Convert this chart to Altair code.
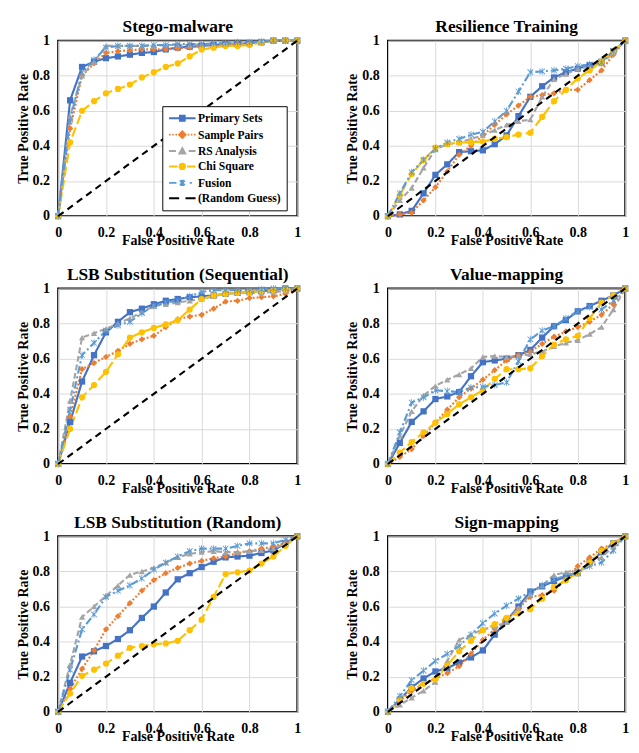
import altair as alt
import pandas as pd

FONT = "Liberation Serif"

fpr = [0, 0.05, 0.1, 0.15, 0.2, 0.25, 0.3, 0.35, 0.4, 0.45, 0.5,
       0.55, 0.6, 0.65, 0.7, 0.75, 0.8, 0.85, 0.9, 0.95, 1.0]
ticks = [0, 0.2, 0.4, 0.6, 0.8, 1.0]
series_names = ["Primary Sets", "Sample Pairs", "RS Analysis", "Chi Square", "Fusion"]
legend_names = series_names + ["(Random Guess)"]
series_colors = ["#4472C4", "#ED7D31", "#A5A5A5", "#FFC000", "#5B9BD5"]
legend_colors = series_colors + ["#000000"]
panel_titles = ["Stego-malware", "Resilience Training",
                "LSB Substitution (Sequential)", "Value-mapping",
                "LSB Substitution (Random)", "Sign-mapping"]
guess_fpr = [0, 1]
guess_tpr = [0, 1]

# Stego-malware
stego_primary = [0, 0.66, 0.85, 0.88, 0.90, 0.91, 0.92, 0.93, 0.935, 0.95, 0.96, 0.965, 0.97, 0.975, 0.98, 0.98, 0.985, 0.99, 1.0, 1.0, 1.0]
stego_sample = [0, 0.50, 0.80, 0.87, 0.93, 0.94, 0.945, 0.95, 0.95, 0.95, 0.955, 0.96, 0.97, 0.975, 0.98, 0.98, 0.985, 0.99, 1.0, 1.0, 1.0]
stego_rs = [0, 0.57, 0.80, 0.88, 0.97, 0.97, 0.97, 0.97, 0.97, 0.975, 0.975, 0.975, 0.98, 0.98, 0.985, 0.985, 0.99, 0.99, 1.0, 1.0, 1.0]
stego_chi = [0, 0.42, 0.60, 0.655, 0.70, 0.725, 0.75, 0.79, 0.82, 0.85, 0.87, 0.91, 0.95, 0.96, 0.97, 0.97, 0.975, 0.99, 1.0, 1.0, 1.0]
stego_fusion = [0, 0.55, 0.82, 0.89, 0.96, 0.97, 0.97, 0.97, 0.975, 0.975, 0.98, 0.98, 0.98, 0.985, 0.985, 0.99, 0.99, 0.995, 1.0, 1.0, 1.0]

# Resilience Training
res_primary = [0, 0.01, 0.03, 0.13, 0.235, 0.295, 0.365, 0.37, 0.375, 0.41, 0.46, 0.57, 0.68, 0.74, 0.79, 0.82, 0.84, 0.86, 0.88, 0.94, 1.0]
res_sample = [0, 0.01, 0.02, 0.09, 0.165, 0.255, 0.35, 0.40, 0.46, 0.52, 0.58, 0.63, 0.68, 0.69, 0.70, 0.72, 0.72, 0.775, 0.83, 0.92, 1.0]
res_rs = [0, 0.09, 0.16, 0.275, 0.38, 0.41, 0.42, 0.44, 0.46, 0.49, 0.52, 0.54, 0.55, 0.68, 0.78, 0.81, 0.84, 0.85, 0.87, 0.93, 1.0]
res_chi = [0, 0.12, 0.24, 0.32, 0.39, 0.41, 0.42, 0.42, 0.425, 0.44, 0.45, 0.465, 0.475, 0.565, 0.655, 0.72, 0.785, 0.83, 0.88, 0.94, 1.0]
res_fusion = [0, 0.13, 0.25, 0.32, 0.385, 0.42, 0.44, 0.465, 0.48, 0.54, 0.60, 0.71, 0.82, 0.825, 0.83, 0.84, 0.855, 0.865, 0.875, 0.94, 1.0]

# LSB Substitution (Sequential)
seq_primary = [0, 0.24, 0.47, 0.62, 0.75, 0.81, 0.865, 0.885, 0.91, 0.93, 0.94, 0.95, 0.955, 0.96, 0.97, 0.975, 0.98, 0.985, 0.99, 1.0, 1.0]
seq_sample = [0, 0.27, 0.54, 0.575, 0.61, 0.645, 0.685, 0.71, 0.73, 0.78, 0.825, 0.84, 0.85, 0.885, 0.925, 0.93, 0.945, 0.95, 0.955, 0.97, 1.0]
seq_rs = [0, 0.36, 0.72, 0.745, 0.77, 0.80, 0.83, 0.865, 0.90, 0.91, 0.92, 0.93, 0.94, 0.955, 0.97, 0.975, 0.975, 0.975, 0.98, 0.985, 1.0]
seq_chi = [0, 0.20, 0.38, 0.45, 0.525, 0.625, 0.72, 0.75, 0.775, 0.795, 0.82, 0.88, 0.94, 0.96, 0.97, 0.975, 0.98, 0.985, 0.99, 0.995, 1.0]
seq_fusion = [0, 0.31, 0.62, 0.69, 0.76, 0.79, 0.81, 0.86, 0.90, 0.92, 0.93, 0.955, 0.98, 0.99, 0.99, 0.99, 0.99, 0.995, 1.0, 1.0, 1.0]

# Value-mapping
val_primary = [0, 0.12, 0.24, 0.30, 0.37, 0.385, 0.41, 0.50, 0.58, 0.59, 0.60, 0.62, 0.65, 0.72, 0.785, 0.82, 0.87, 0.90, 0.93, 0.96, 1.0]
val_sample = [0, 0.04, 0.085, 0.16, 0.235, 0.31, 0.38, 0.43, 0.48, 0.535, 0.59, 0.62, 0.64, 0.685, 0.725, 0.755, 0.78, 0.81, 0.85, 0.91, 1.0]
val_rs = [0, 0.16, 0.30, 0.39, 0.445, 0.48, 0.51, 0.545, 0.61, 0.615, 0.61, 0.615, 0.625, 0.64, 0.67, 0.69, 0.705, 0.74, 0.78, 0.88, 1.0]
val_chi = [0, 0.065, 0.125, 0.18, 0.235, 0.285, 0.34, 0.38, 0.42, 0.485, 0.54, 0.54, 0.545, 0.615, 0.68, 0.71, 0.73, 0.83, 0.92, 0.96, 1.0]
val_fusion = [0, 0.18, 0.35, 0.38, 0.42, 0.415, 0.41, 0.435, 0.44, 0.45, 0.465, 0.585, 0.71, 0.76, 0.785, 0.83, 0.87, 0.895, 0.88, 0.93, 1.0]

# LSB Substitution (Random)
rnd_primary = [0, 0.165, 0.315, 0.345, 0.375, 0.415, 0.465, 0.535, 0.60, 0.68, 0.755, 0.79, 0.825, 0.855, 0.88, 0.885, 0.89, 0.905, 0.92, 0.96, 1.0]
rnd_sample = [0, 0.13, 0.245, 0.35, 0.47, 0.545, 0.62, 0.69, 0.75, 0.79, 0.82, 0.845, 0.86, 0.875, 0.885, 0.905, 0.915, 0.93, 0.94, 0.965, 1.0]
rnd_rs = [0, 0.27, 0.54, 0.60, 0.66, 0.72, 0.78, 0.80, 0.82, 0.85, 0.88, 0.90, 0.91, 0.915, 0.91, 0.91, 0.915, 0.92, 0.93, 0.96, 1.0]
rnd_chi = [0, 0.105, 0.205, 0.24, 0.275, 0.32, 0.365, 0.375, 0.385, 0.39, 0.405, 0.465, 0.525, 0.655, 0.785, 0.795, 0.805, 0.845, 0.885, 0.945, 1.0]
rnd_fusion = [0, 0.24, 0.47, 0.555, 0.655, 0.69, 0.72, 0.76, 0.81, 0.85, 0.885, 0.915, 0.93, 0.93, 0.93, 0.945, 0.96, 0.96, 0.96, 0.98, 1.0]

# Sign-mapping
sgn_primary = [0, 0.07, 0.14, 0.19, 0.23, 0.25, 0.28, 0.31, 0.35, 0.44, 0.52, 0.60, 0.685, 0.715, 0.745, 0.77, 0.79, 0.85, 0.91, 0.96, 1.0]
sgn_sample = [0, 0.06, 0.12, 0.16, 0.19, 0.22, 0.26, 0.33, 0.41, 0.47, 0.53, 0.59, 0.655, 0.665, 0.69, 0.76, 0.83, 0.88, 0.93, 0.96, 1.0]
sgn_rs = [0, 0.04, 0.08, 0.12, 0.17, 0.29, 0.41, 0.44, 0.47, 0.485, 0.51, 0.59, 0.67, 0.72, 0.78, 0.795, 0.81, 0.84, 0.88, 0.94, 1.0]
sgn_chi = [0, 0.07, 0.135, 0.16, 0.185, 0.265, 0.345, 0.405, 0.465, 0.50, 0.535, 0.56, 0.585, 0.645, 0.71, 0.75, 0.79, 0.85, 0.915, 0.96, 1.0]
sgn_fusion = [0, 0.09, 0.18, 0.235, 0.29, 0.33, 0.375, 0.44, 0.505, 0.56, 0.605, 0.645, 0.685, 0.72, 0.755, 0.775, 0.795, 0.83, 0.85, 0.92, 1.0]

panel_values = {
    "Stego-malware": [stego_primary, stego_sample, stego_rs, stego_chi, stego_fusion],
    "Resilience Training": [res_primary, res_sample, res_rs, res_chi, res_fusion],
    "LSB Substitution (Sequential)": [seq_primary, seq_sample, seq_rs, seq_chi, seq_fusion],
    "Value-mapping": [val_primary, val_sample, val_rs, val_chi, val_fusion],
    "LSB Substitution (Random)": [rnd_primary, rnd_sample, rnd_rs, rnd_chi, rnd_fusion],
    "Sign-mapping": [sgn_primary, sgn_sample, sgn_rs, sgn_chi, sgn_fusion],
}

rows = []
for title in panel_titles:
    for name, ys in zip(series_names, panel_values[title]):
        for x, y in zip(fpr, ys):
            rows.append({"panel": title, "series": name, "fpr": x, "tpr": y})
df = pd.DataFrame(rows)
diag_df = pd.DataFrame({"fpr": guess_fpr, "tpr": guess_tpr})
legend_df = pd.DataFrame({"series": legend_names})

# marker shapes (plot) and legend symbols (line sample + marker)
star_path = ("M-1,-0.8L-0.8,-1L0,-0.2L0.8,-1L1,-0.8L0.2,0L1,0.8L0.8,1L0,0.2L-0.8,1L-1,0.8L-0.2,0Z"
             "M-0.12,-1.15H0.12V1.15H-0.12Z")
point_shapes = ["square", "diamond", "triangle-up", "circle", star_path]
legend_shapes = [
    "M-1,0H4M1.05,-0.5H1.95V0.5H1.05Z",
    "M-1,0H-0.7M-0.4,0H-0.1M0.2,0H0.5M2.5,0H2.8M3.1,0H3.4M3.7,0H4M1.5,-0.6L2.1,0L1.5,0.6L0.9,0Z",
    "M-1,0H0.3M2.7,0H4M1.5,-0.55L2.05,0.45H0.95Z",
    "M-1,0H0.6M2.4,0H4M2,0A0.5,0.5 0 1,1 1,0A0.5,0.5 0 1,1 2,0Z",
    "M-1,0H0.4M1.05,-0.45L1.95,0.45M1.05,0.45L1.95,-0.45M1.5,-0.6V0.6M2.9,0H3.3",
    "M-1,0H0.9M2.1,0H4",
]
dashes = [[1, 0], [2, 2], [6, 3], [10, 4], [8, 3, 2, 3]]

cscale = alt.Scale(domain=series_names, range=series_colors)
dscale = alt.Scale(domain=series_names, range=dashes)
sscale = alt.Scale(domain=series_names, range=point_shapes)

PLOT_H = 182


def make_panel(title, w, with_legend):
    d = df[df["panel"] == title]
    xenc = alt.X("fpr:Q", scale=alt.Scale(domain=[0, 1], nice=False, zero=False),
                 axis=alt.Axis(values=ticks, format="~g", title="False Positive Rate",
                               labelPadding=10, titlePadding=-5, labelFlush=False,
                               labelOverlap=False))
    yenc = alt.Y("tpr:Q", scale=alt.Scale(domain=[0, 1], nice=False, zero=False),
                 axis=alt.Axis(values=ticks, format="~g", title="True Positive Rate",
                               labelPadding=9, titlePadding=2, labelFlush=False,
                               labelOverlap=False))
    lines = alt.Chart(d).mark_line(strokeWidth=2.2).encode(
        x=xenc, y=yenc,
        color=alt.Color("series:N", scale=cscale, legend=None),
        strokeDash=alt.StrokeDash("series:N", scale=dscale, legend=None),
        order="fpr:Q",
    )
    pts = alt.Chart(d).mark_point(filled=True, size=42, opacity=1).encode(
        x=xenc, y=yenc,
        color=alt.Color("series:N", scale=cscale, legend=None),
        shape=alt.Shape("series:N", scale=sscale, legend=None),
    )
    guess = alt.Chart(diag_df).mark_line(color="black", strokeWidth=2.2, strokeDash=[7, 5]).encode(
        x=xenc, y=yenc
    )
    layers = [lines, pts, guess]
    if with_legend:
        leg = alt.Chart(legend_df).transform_filter("datum.series == 'none'").mark_point(
            filled=True, opacity=1
        ).encode(
            fill=alt.Fill("series:N", scale=alt.Scale(domain=legend_names, range=legend_colors),
                          legend=alt.Legend(title=None)),
            stroke=alt.Stroke("series:N", scale=alt.Scale(domain=legend_names, range=legend_colors),
                              legend=alt.Legend(title=None)),
            shape=alt.Shape("series:N", scale=alt.Scale(domain=legend_names, range=legend_shapes),
                            legend=alt.Legend(
                                title=None, orient="none", legendX=108, legendY=68,
                                symbolSize=121, symbolStrokeWidth=2, labelOffset=18,
                                labelFont=FONT, labelFontWeight="bold", labelFontSize=12,
                                labelColor="black", strokeColor="black", fillColor="white",
                                padding=6, rowPadding=2, cornerRadius=0)),
        )
        layers.append(leg)
    ch = alt.layer(*layers).properties(width=w, height=PLOT_H, title=alt.Title(title, offset=-3))
    if with_legend:
        ch = ch.resolve_scale(shape="independent", fill="independent", stroke="independent")
    return ch


p = [make_panel(t, 248 if i % 2 == 0 else 246, i == 0) for i, t in enumerate(panel_titles)]

rows_c = [alt.hconcat(p[2 * r], p[2 * r + 1], spacing=42) for r in range(3)]
chart = alt.vconcat(*rows_c, spacing=18).properties(
    padding={"left": 6, "top": -4, "right": 0, "bottom": 0},
).configure_axis(
    labelFont=FONT, labelFontWeight="bold", labelFontSize=14.5, labelColor="black",
    titleFont=FONT, titleFontWeight="bold", titleFontSize=14.5, titleColor="black",
    gridColor="#D9D9D9", gridWidth=1, domain=False, ticks=False, labelOverlap=False,
).configure_view(
    stroke="black", strokeWidth=2
).configure_title(
    font=FONT, fontSize=18, fontWeight="bold", color="black", anchor="middle"
).configure_legend(
    symbolStrokeWidth=2
)

chart.save("out.html", embed_options={"renderer": "svg", "actions": False})
